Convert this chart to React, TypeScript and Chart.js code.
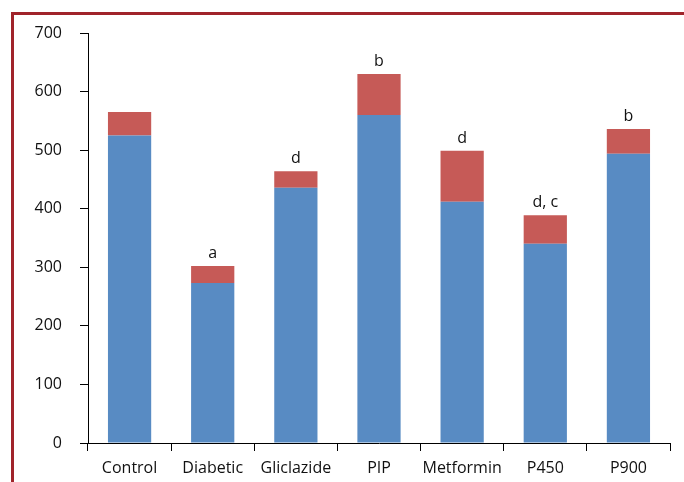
import React, { useEffect, useRef } from "react";
import { Chart, registerables } from "chart.js";

Chart.register(...registerables);

const categories = ["Control", "Diabetic", "Gliclazide", "PIP", "Metformin", "P450", "P900"];
const baseValues = [525, 273, 436, 560, 412, 340, 494];
const topValues = [40, 29, 28, 70, 87, 49, 42];
const letters = ["", "a", "d", "b", "d", "d, c", "b"];
const yMin = 0;
const yMax = 700;
const yStep = 100;

const FONT = "'Open Sans', 'DejaVu Sans', sans-serif";
const TEXT = "#111111";

const letterPlugin = {
  id: "letterPlugin",
  afterDatasetsDraw(chart: any) {
    const ctx = chart.ctx;
    const meta = chart.getDatasetMeta(1);
    ctx.save();
    ctx.font = `16px ${FONT}`;
    ctx.fillStyle = TEXT;
    ctx.textAlign = "center";
    ctx.textBaseline = "alphabetic";
    meta.data.forEach((el: any, i: number) => {
      const t = letters[i];
      if (!t) return;
      ctx.fillText(t, el.x, el.y - 8);
    });
    ctx.restore();
  },
};

export default function App() {
  const ref = useRef<HTMLCanvasElement | null>(null);

  useEffect(() => {
    if (!ref.current) return;
    const chart = new Chart(ref.current, {
      type: "bar",
      data: {
        labels: categories,
        datasets: [
          {
            data: baseValues,
            backgroundColor: "#588bc3",
            borderWidth: 0,
            categoryPercentage: 1,
            barPercentage: 0.52,
          },
          {
            data: topValues,
            backgroundColor: "#c65a57",
            borderWidth: 0,
            categoryPercentage: 1,
            barPercentage: 0.52,
          },
        ],
      },
      options: {
        responsive: false,
        animation: false,
        devicePixelRatio: 1,
        layout: { padding: { left: 0, right: 14, top: 33, bottom: 0 } },
        plugins: {
          legend: { display: false },
          tooltip: { enabled: false },
        },
        scales: {
          x: {
            stacked: true,
            grid: {
              offset: true,
              drawOnChartArea: false,
              drawTicks: true,
              tickLength: 8,
              color: "#000",
              lineWidth: 1,
            },
            border: { display: true, color: "#000", width: 1 },
            ticks: {
              color: TEXT,
              font: { family: FONT, size: 16 },
              padding: 8,
              maxRotation: 0,
              autoSkip: false,
            },
            afterFit(scale: any) {
              scale.height = 39;
            },
          },
          y: {
            stacked: true,
            min: yMin,
            max: yMax,
            grid: {
              drawOnChartArea: false,
              drawTicks: true,
              tickLength: 8,
              color: "#000",
              lineWidth: 1,
            },
            border: { display: true, color: "#000", width: 1 },
            ticks: {
              stepSize: yStep,
              color: TEXT,
              font: { family: FONT, size: 16 },
              padding: 18,
            },
            afterFit(scale: any) {
              scale.width = 88;
            },
          },
        },
      },
      plugins: [letterPlugin],
    });
    return () => chart.destroy();
  }, []);

  return (
    <div
      style={{
        position: "fixed",
        left: 0,
        top: 0,
        width: 684,
        height: 482,
        overflow: "hidden",
        background: "#ffffff",
      }}
    >
      <div
        style={{
          position: "absolute",
          left: 11,
          top: 12,
          width: 720,
          height: 520,
          borderLeft: "3px solid #a0232a",
          borderTop: "3px solid #a0232a",
          boxSizing: "border-box",
        }}
      />
      <canvas
        ref={ref}
        width={684}
        height={482}
        style={{ position: "absolute", left: 0, top: 0, width: 684, height: 482 }}
      />
    </div>
  );
}
